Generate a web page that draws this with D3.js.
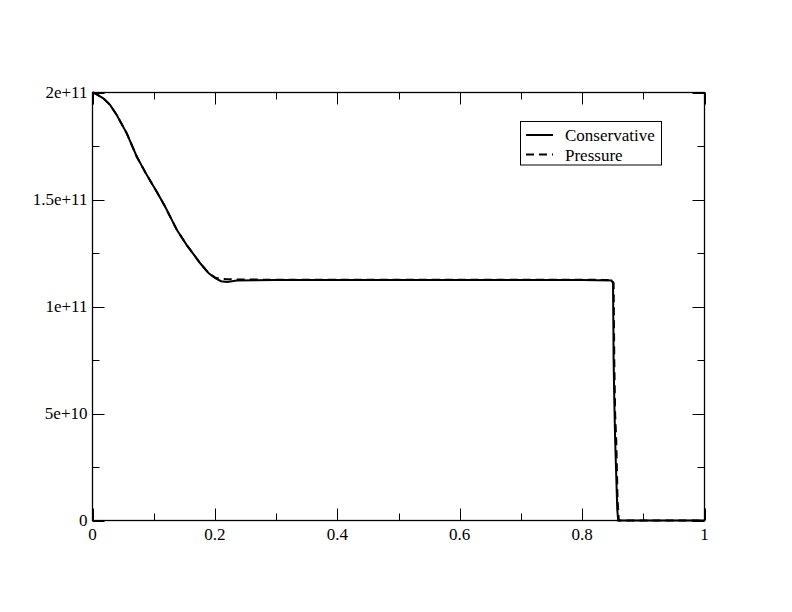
<!DOCTYPE html>
<html>
<head>
<meta charset="utf-8">
<script src="https://cdn.jsdelivr.net/npm/d3@7"></script>
<style>
  html, body { margin: 0; padding: 0; background: #fff; }
  svg { display: block; }
</style>
</head>
<body>
<svg id="chart" width="792" height="612"></svg>
<script>
// ---- data ----
const consX = [0, 0.005, 0.0177, 0.0287, 0.0396, 0.056, 0.0724, 0.0888, 0.105, 0.1188, 0.138, 0.154, 0.176, 0.190, 0.2007, 0.21, 0.22, 0.236, 0.3, 0.4, 0.5, 0.6, 0.7, 0.8, 0.848, 0.8505, 0.851, 0.8515, 0.8526, 0.854, 0.856, 0.8575, 0.859, 0.862, 0.9, 1.0];
const consY = [2.0e11, 1.995e11, 1.973e11, 1.942e11, 1.895e11, 1.809e11, 1.700e11, 1.614e11, 1.536e11, 1.466e11, 1.357e11, 1.287e11, 1.202e11, 1.155e11, 1.132e11, 1.118e11, 1.114e11, 1.122e11, 1.124e11, 1.124e11, 1.124e11, 1.124e11, 1.124e11, 1.124e11, 1.122e11, 1.11e11, 0.95e11, 0.75e11, 0.563e11, 0.376e11, 0.189e11, 0.049e11, 0, 0, 0, 0];
const presX = [0, 0.005, 0.0177, 0.0287, 0.0396, 0.056, 0.0724, 0.0888, 0.105, 0.1188, 0.138, 0.154, 0.176, 0.190, 0.2007, 0.21, 0.22, 0.3, 0.4, 0.5, 0.6, 0.7, 0.8, 0.849, 0.8515, 0.8526, 0.854, 0.8558, 0.858, 0.860, 0.9, 1.0];
const presY = [2.0e11, 1.995e11, 1.973e11, 1.942e11, 1.895e11, 1.809e11, 1.700e11, 1.614e11, 1.536e11, 1.466e11, 1.357e11, 1.287e11, 1.202e11, 1.155e11, 1.135e11, 1.129e11, 1.127e11, 1.125e11, 1.125e11, 1.125e11, 1.125e11, 1.125e11, 1.125e11, 1.124e11, 1.11e11, 0.75e11, 0.50e11, 0.376e11, 0.094e11, 0, 0, 0];
const xMajor = [0, 0.2, 0.4, 0.6, 0.8, 1];
const xMajorLabels = ["0", "0.2", "0.4", "0.6", "0.8", "1"];
const xMinor = [0.1, 0.3, 0.5, 0.7, 0.9];
const yMajor = [0, 5e10, 1e11, 1.5e11, 2e11];
const yMajorLabels = ["0", "5e+10", "1e+11", "1.5e+11", "2e+11"];
const yMinor = [2.5e10, 7.5e10, 1.25e11, 1.75e11];
const seriesNames = ["Conservative", "Pressure"];

// ---- layout ----
const FONT = "'Liberation Serif', 'Times New Roman', Times, 'DejaVu Serif', serif";
const svg = d3.select("#chart");
const L = 92.5, R = 704.5, T = 92.5, B = 520.5;
const x = d3.scaleLinear().domain([0, 1]).range([L, R]);
const y = d3.scaleLinear().domain([0, 2e11]).range([B, T]);
const majorLen = 12, minorLen = 7;

const g = svg.append("g");

// frame
g.append("rect").attr("x", L).attr("y", T).attr("width", R - L).attr("height", B - T)
  .attr("fill", "none").attr("stroke", "#000").attr("stroke-width", 1.3);

// ticks (inward, all four sides)
function xTicks(vals, len) {
  vals.forEach(v => {
    const px = Math.round(x(v)) + 0.5;
    g.append("line").attr("x1", px).attr("x2", px).attr("y1", B).attr("y2", B - len).attr("stroke", "#000").attr("stroke-width", 1);
    g.append("line").attr("x1", px).attr("x2", px).attr("y1", T).attr("y2", T + len).attr("stroke", "#000").attr("stroke-width", 1);
  });
}
function yTicks(vals, len) {
  vals.forEach(v => {
    const py = Math.round(y(v)) + 0.5;
    g.append("line").attr("x1", L).attr("x2", L + len).attr("y1", py).attr("y2", py).attr("stroke", "#000").attr("stroke-width", 1);
    g.append("line").attr("x1", R).attr("x2", R - len).attr("y1", py).attr("y2", py).attr("stroke", "#000").attr("stroke-width", 1);
  });
}
xTicks(xMajor, majorLen); xTicks(xMinor, minorLen);
yTicks(yMajor, majorLen); yTicks(yMinor, minorLen);

// tick labels
xMajor.forEach((v, i) => {
  g.append("text").attr("x", x(v)).attr("y", B + 19).attr("text-anchor", "middle")
    .attr("font-family", FONT).attr("font-size", 17).attr("fill", "#000").text(xMajorLabels[i]);
});
yMajor.forEach((v, i) => {
  g.append("text").attr("x", L - 5).attr("y", y(v) + 5.5).attr("text-anchor", "end")
    .attr("font-family", FONT).attr("font-size", 17).attr("fill", "#000").text(yMajorLabels[i]);
});

// lines
const line = d3.line().x(d => x(d[0])).y(d => y(d[1]));
const consData = consX.map((v, i) => [v, consY[i]]);
const presData = presX.map((v, i) => [v, presY[i]]);
g.append("path").datum(presData).attr("d", line).attr("fill", "none")
  .attr("stroke", "#000").attr("stroke-width", 2).attr("stroke-dasharray", "8,5");
g.append("path").datum(consData).attr("d", line).attr("fill", "none")
  .attr("stroke", "#000").attr("stroke-width", 2);

// legend
const lg = svg.append("g");
lg.append("rect").attr("x", 520.5).attr("y", 121.5).attr("width", 141).attr("height", 43.5)
  .attr("fill", "#fff").attr("stroke", "#000").attr("stroke-width", 1);
const legendRows = [135, 154.5];
seriesNames.forEach((name, i) => {
  lg.append("line").attr("x1", 526).attr("x2", 553).attr("y1", legendRows[i]).attr("y2", legendRows[i])
    .attr("stroke", "#000").attr("stroke-width", 2)
    .attr("stroke-dasharray", i === 1 ? "8,5" : null);
  lg.append("text").attr("x", 565).attr("y", legendRows[i] + 6)
    .attr("font-family", FONT).attr("font-size", 17).attr("fill", "#000").text(name);
});
</script>
</body>
</html>
